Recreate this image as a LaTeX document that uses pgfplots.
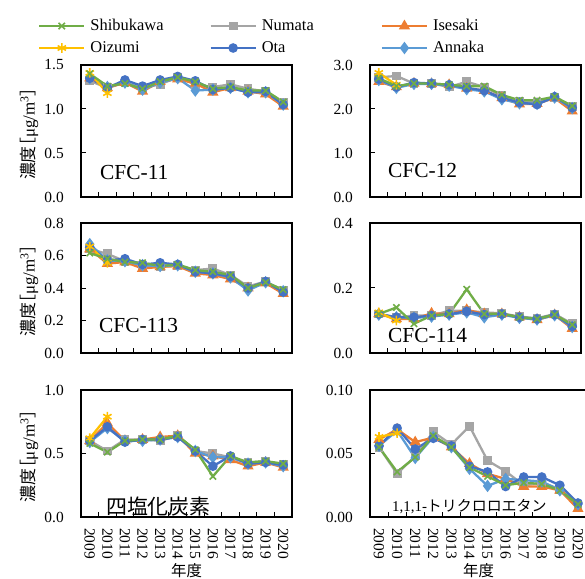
\documentclass[border=0pt]{standalone}
\usepackage{fontspec}
\setmainfont{Liberation Serif}
\newfontfamily\jp{Noto Sans CJK JP}
\newfontfamily\jpp[RawFeature=+palt]{Noto Sans CJK JP}
\usepackage{pgfplots}
\usepackage{pgfplotstable}
\pgfplotsset{compat=1.18}

\definecolor{cShib}{HTML}{70AD47}
\definecolor{cNuma}{HTML}{A5A5A5}
\definecolor{cIse}{HTML}{ED7D31}
\definecolor{cOiz}{HTML}{FFC000}
\definecolor{cOta}{HTML}{4472C4}
\definecolor{cAnn}{HTML}{5B9BD5}

% x = 0..11 -> 2009..2020 ; Oizumi only 2009-2010
\pgfplotstableread{
x Shib  Numa   Ise   Oiz  Ota   Ann
0 1.40  1.32   1.35  1.41 1.35  1.35
1 1.26  1.24   1.24  1.18 1.24  1.25
2 1.29  1.30   1.30  nan  1.33  1.30
3 1.23  1.24   1.20  nan  1.26  1.22
4 1.31  1.28   1.31  nan  1.33  1.30
5 1.36  1.36   1.34  nan  1.37  1.35
6 1.31  1.28   1.29  nan  1.32  1.21
7 1.23  1.25   1.19  nan  1.22  1.22
8 1.25  1.28   1.24  nan  1.24  1.24
9 1.21  1.23   1.20  nan  1.19  1.19
10 1.21 1.20   1.17  nan  1.20  1.19
11 1.08 1.07   1.03  nan  1.05  1.05
}\tabA
\pgfplotstableread{
x Shib  Numa   Ise   Oiz  Ota   Ann
0 2.70  2.72   2.62  2.82 2.68  2.66
1 2.52  2.75   2.50  2.55 2.50  2.48
2 2.58  2.58   2.58  nan  2.60  2.57
3 2.58  2.58   2.57  nan  2.58  2.57
4 2.55  2.50   2.55  nan  2.55  2.53
5 2.52  2.62   2.47  nan  2.48  2.45
6 2.52  2.50   2.42  nan  2.42  2.40
7 2.32  2.30   2.25  nan  2.25  2.22
8 2.20  2.18   2.11  nan  2.15  2.13
9 2.20  2.15   2.12  nan  2.10  2.12
10 2.28 2.27   2.25  nan  2.28  2.26
11 2.07 2.05   1.95  nan  2.03  2.02
}\tabB
\pgfplotstableread{
x Shib  Numa   Ise   Oiz   Ota   Ann
0 0.615 0.64   0.64  0.655 0.65  0.67
1 0.58  0.61   0.55  0.555 0.57  0.57
2 0.56  0.565  0.56  nan   0.58  0.565
3 0.555 0.54   0.52  nan   0.545 0.54
4 0.535 0.53   0.53  nan   0.555 0.535
5 0.545 0.54   0.535 nan   0.545 0.54
6 0.51  0.51   0.49  nan   0.50  0.50
7 0.50  0.52   0.48  nan   0.49  0.49
8 0.48  0.48   0.455 nan   0.47  0.465
9 0.40  0.41   0.40  nan   0.40  0.385
10 0.435 0.44  0.43  nan   0.44  0.435
11 0.39 0.385  0.365 nan   0.375 0.38
}\tabC
\pgfplotstableread{
x Shib  Numa   Ise   Oiz   Ota   Ann
0 0.120 0.120  0.120 0.125 0.120 0.118
1 0.140 0.110  0.105 0.100 0.110 0.110
2 0.090 0.115  0.105 nan   0.110 0.108
3 0.115 0.115  0.122 nan   0.115 0.112
4 0.120 0.130  0.120 nan   0.120 0.118
5 0.196 0.130  0.133 nan   0.128 0.125
6 0.120 0.125  0.120 nan   0.118 0.110
7 0.121 0.122  0.120 nan   0.120 0.118
8 0.110 0.112  0.110 nan   0.110 0.108
9 0.105 0.107  0.102 nan   0.105 0.103
10 0.118 0.120 0.117 nan   0.118 0.116
11 0.087 0.090 0.075 nan   0.082 0.080
}\tabD
\pgfplotstableread{
x Shib  Numa   Ise   Oiz   Ota   Ann
0 0.58  0.60   0.60  0.62  0.60  0.59
1 0.51  0.52   0.74  0.79  0.71  0.70
2 0.60  0.61   0.60  nan   0.59  0.60
3 0.61  0.61   0.61  nan   0.61  0.60
4 0.61  0.60   0.63  nan   0.61  0.61
5 0.64  0.64   0.64  nan   0.63  0.63
6 0.53  0.52   0.50  nan   0.52  0.52
7 0.32  0.50   0.48  nan   0.40  0.47
8 0.48  0.47   0.45  nan   0.48  0.47
9 0.43  0.43   0.40  nan   0.42  0.42
10 0.44 0.44   0.43  nan   0.43  0.43
11 0.42 0.41   0.39  nan   0.41  0.40
}\tabE
\pgfplotstableread{
x Shib   Numa    Ise    Oiz   Ota    Ann
0 0.055  0.055   0.061  0.063 0.056  0.056
1 0.0355 0.034   0.069  0.066 0.070  0.068
2 0.047  0.048   0.059  nan   0.0535 0.0465
3 0.064  0.067   0.0625 nan   0.062  0.063
4 0.055  0.057   0.055  nan   0.056  0.055
5 0.039  0.0716  0.042  nan   0.040  0.038
6 0.032  0.0444  0.034  nan   0.0355 0.0245
7 0.025  0.036   0.030  nan   0.024  0.030
8 0.027  0.025   0.024  nan   0.0315 0.029
9 0.026  0.027   0.024  nan   0.0315 0.028
10 0.021 0.022   0.021  nan   0.025  0.021
11 0.010 0.010   0.0065 nan   0.011  0.010
}\tabF

\newcommand\legtxt[1]{\makebox[114bp][l]{#1}}
\newcommand\ylab{{\jp 濃度}{\jpp［}μg/m\textsuperscript{3}{\jpp ］}}
\newcommand\six[1]{%
  \addplot[sNuma, forget plot] table[x=x, y=Numa] {#1};
  \addplot[sIse,  forget plot] table[x=x, y=Ise]  {#1};
  \addplot[sAnn,  forget plot] table[x=x, y=Ann]  {#1};
  \addplot[sOta,  forget plot] table[x=x, y=Ota]  {#1};
  \addplot[sOiz,  forget plot] table[x=x, y=Oiz]  {#1};
  \addplot[sShib, forget plot] table[x=x, y=Shib] {#1};
}

\tikzset{lbl/.style={anchor=base west, inner sep=0pt, font=\fontsize{21.5}{24}\selectfont}}

\pgfplotsset{
  sShib/.style={color=cShib, line width=2.3bp, mark=x, mark size=4.5bp, mark options={line width=1.6bp}},
  sNuma/.style={color=cNuma, line width=2.3bp, mark=square*, mark size=3.3bp},
  sIse/.style={color=cIse, line width=2.3bp, mark=triangle*, mark size=4.2bp},
  sOiz/.style={color=cOiz, line width=2.3bp, mark=asterisk, mark size=4.8bp, mark options={line width=1.6bp}},
  sOta/.style={color=cOta, line width=2.3bp, mark=*, mark size=3.6bp},
  sAnn/.style={color=cAnn, line width=2.3bp, mark=diamond*, mark size=4.4bp},
  panel/.style={
    scale only axis, clip=false,
    xmin=-0.5, xmax=11.5, ymin=0,
    axis line style={line width=1.6bp},
    tick align=inside, xtick pos=left, ytick pos=left,
    xtick={0.5,1.5,...,10.5}, xticklabels={},
    major tick length=5bp,
    every tick/.style={black, line width=1bp},
    yticklabel style={font=\fontsize{15.5}{17}\selectfont, inner sep=0pt, xshift=-17bp,
      /pgf/number format/assume math mode=true,
      /pgf/number format/fixed, /pgf/number format/fixed zerofill,
      /pgf/number format/precision=1},
    every axis y label/.style={at={(axis description cs:-0.245,0.48)}, rotate=90, anchor=center,
      font=\fontsize{17}{19}\selectfont},
    legend image code/.code={\draw[mark repeat=2, mark phase=2, #1] plot coordinates {(0bp,0bp) (22.5bp,0bp) (45bp,0bp)};},
  },
  years/.style={
    extra x ticks={0,1,2,3,4,5,6,7,8,9,10,11},
    extra x tick labels={2009,2010,2011,2012,2013,2014,2015,2016,2017,2018,2019,2020},
    extra x tick style={major tick length=0pt,
      tick label style={yshift=-11bp, rotate=-90, anchor=west, inner sep=0pt,
        font=\fontsize{15.5}{17}\selectfont}},
    xlabel={\jp 年度},
    every axis x label/.style={at={(axis description cs:0.5,0)}, anchor=center, yshift=-54bp,
      font=\fontsize{15.5}{17}\selectfont},
  },
}

\begin{document}
\begin{tikzpicture}
\useasboundingbox (0bp,0bp) rectangle (585bp,579bp);

% row 1
\begin{axis}[panel, at={(81bp,382bp)}, anchor=south west, width=211bp, height=132bp,
  ymax=1.5, ytick={0,0.5,1,1.5}, ylabel={\ylab},
  legend columns=3,
  legend style={at={(axis description cs:-0.2038,1.212)}, anchor=west, draw=none, fill=none,
    inner sep=0pt, column sep=4bp, row sep=4bp,
    font=\fontsize{16.5}{18}\selectfont,
    nodes={inner sep=1bp, text height=12bp, text depth=4bp}},
]
\addlegendimage{sShib}\addlegendentry{\legtxt{Shibukawa}}
\addlegendimage{sNuma}\addlegendentry{\legtxt{Numata}}
\addlegendimage{sIse}\addlegendentry{\legtxt{Isesaki}}
\addlegendimage{sOiz}\addlegendentry{\legtxt{Oizumi}}
\addlegendimage{sOta}\addlegendentry{\legtxt{Ota}}
\addlegendimage{sAnn}\addlegendentry{\legtxt{Annaka}}
\six{\tabA}
\node[lbl] at (rel axis cs:0.09,0.136) {CFC-11};
\end{axis}

\begin{axis}[panel, at={(370bp,382bp)}, anchor=south west, width=211bp, height=132bp,
  ymax=3, ytick={0,1,2,3}]
\six{\tabB}
\node[lbl] at (rel axis cs:0.085,0.144) {CFC-12};
\end{axis}

% row 2
\begin{axis}[panel, at={(81bp,226bp)}, anchor=south west, width=211bp, height=130bp,
  ymax=0.8, ytick={0,0.2,0.4,0.6,0.8}, ylabel={\ylab}]
\six{\tabC}
\node[lbl] at (rel axis cs:0.085,0.154) {CFC-113};
\end{axis}

\begin{axis}[panel, at={(370bp,226bp)}, anchor=south west, width=211bp, height=130bp,
  ymax=0.4, ytick={0,0.2,0.4}]
\six{\tabD}
\node[lbl] at (rel axis cs:0.085,0.077) {CFC-114};
\end{axis}

% row 3
\begin{axis}[panel, years, at={(81bp,62bp)}, anchor=south west, width=211bp, height=127bp,
  ymax=1, ytick={0,0.5,1}, ylabel={\ylab}]
\six{\tabE}
\node[lbl, font=\fontsize{21}{24}\selectfont\jp] at (rel axis cs:0.118,0.02) {四塩化炭素};
\end{axis}

\begin{axis}[panel, years, at={(370bp,62bp)}, anchor=south west, width=217bp, height=127bp,
  ymax=0.1, ytick={0,0.05,0.1},
  yticklabel style={/pgf/number format/precision=2}]
\six{\tabF}
\node[lbl, font=\fontsize{15}{17}\selectfont] at (rel axis cs:0.101,0.04) {1,1,1-{\jp トリクロロエタン}};
\end{axis}
\end{tikzpicture}
\end{document}
